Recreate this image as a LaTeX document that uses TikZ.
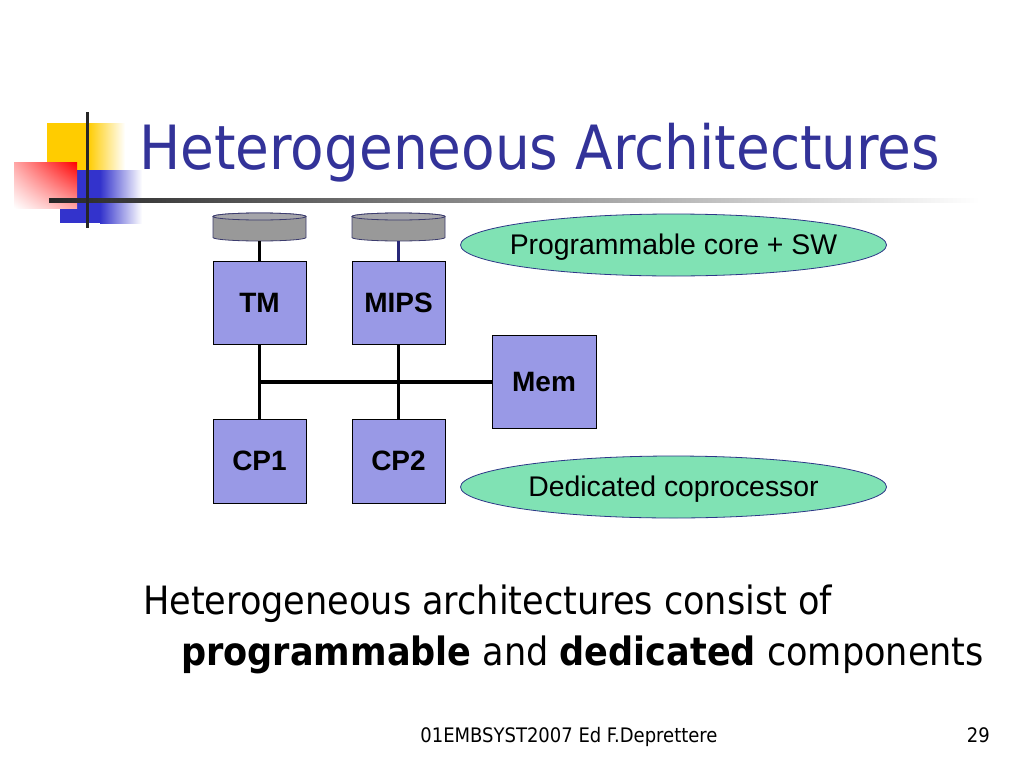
\documentclass[tikz,border=0pt]{standalone}
\usepackage{fontspec}
\setmainfont{DejaVu Sans Condensed}
\newfontfamily\arialf{Liberation Sans}
\usetikzlibrary{shapes.geometric,shadings}
\definecolor{titleblue}{RGB}{51,51,153}
\definecolor{boxfill}{RGB}{153,153,230}
\definecolor{mint}{RGB}{128,226,180}
\definecolor{ellline}{RGB}{45,55,135}
\definecolor{yel}{RGB}{255,204,0}
\definecolor{dblue}{RGB}{51,51,204}
\definecolor{drumgray}{RGB}{153,153,153}
\definecolor{drumtop}{RGB}{165,165,170}
\definecolor{drumline}{RGB}{60,60,110}
\definecolor{linknavy}{RGB}{40,40,120}
\newcommand{\drumshape}[3]{%
  \node[cylbox] (#1) at (#2,-#3) {};
  \filldraw[fill=drumgray, draw=drumline, line width=0.8pt]
    ({#2-46.5},{-#3+10.5}) -- ({#2-46.5},{-#3-10.5})
    arc[start angle=180,end angle=360,x radius=46.5,y radius=3.5]
    -- ({#2+46.5},{-#3+10.5})
    arc[start angle=0,end angle=180,x radius=46.5,y radius=3.5] -- cycle;
  \filldraw[fill=drumtop, draw=drumline, line width=0.8pt]
    (#2,{-#3+10.5}) ellipse[x radius=46.5, y radius=3.5];
}
\begin{document}
\begin{tikzpicture}[x=1pt,y=1pt,
  unit/.style={draw=black, line width=0.8pt, fill=boxfill, minimum width=93pt,
    minimum height=83pt, inner sep=0pt, font=\arialf\bfseries\fontsize{28}{32}\selectfont},
  note/.style={ellipse, draw=ellline, line width=0.8pt, fill=mint, minimum width=426pt,
    minimum height=62pt, inner sep=0pt},
  notetext/.style={inner sep=0pt, font=\arialf\fontsize{28.4}{32}\selectfont},
  link/.style={line width=3pt},
  bus/.style={line width=4pt},
  drumlink/.style={line width=2.5pt},
  cylbox/.style={minimum width=93pt, minimum height=28pt, inner sep=0pt},
  txt/.style={inner sep=0pt}]
\useasboundingbox (0,0) rectangle (1024,-768);
\fill[white] (0,0) rectangle (1024,-768);

% corner decoration
\fill[yel] (47,-123) rectangle (88,-172);
\shade[left color=yel, right color=white] (88,-123) rectangle (125,-172);
\fill[dblue] (60,-170) rectangle (100,-223);
\shade[left color=dblue, right color=white] (100,-170) rectangle (142,-223);
\shade[shading=bilinear interpolation, upper right=red, upper left=red!35, lower right=red!35, lower left=white] (14,-162) rectangle (77,-208);
\shade[left color=black!85, middle color=black!45, right color=white] (49,-198) rectangle (980,-202.5);
\draw[line width=3pt, black!85] (87,-112) -- (87,-228);

% title
\node[txt, anchor=base west, text=titleblue, font=\fontsize{61}{70}\selectfont] (title) at (139,-169) {Heterogeneous Architectures};

% drums
\drumshape{cTM}{259.5}{227}
\drumshape{cMIPS}{398.5}{227}

% units
\node[unit] (TM) at (259.5,-302.5) {TM};
\node[unit] (MIPS) at (398.5,-302.5) {MIPS};
\node[unit, minimum height=84pt] (CP1) at (259.5,-461) {CP1};
\node[unit, minimum height=84pt] (CP2) at (398.5,-461) {CP2};
\node[unit, minimum width=104pt, minimum height=93pt] (Mem) at (544,-381.5) {Mem};

\coordinate (j1) at (TM.south |- Mem.west);
\draw[drumlink] (cTM.south) -- (TM.north);
\draw[drumlink, linknavy] (cMIPS.south) -- (MIPS.north);
\draw[link] (TM.south) -- (CP1.north);
\draw[link] (MIPS.south) -- (CP2.north);
\draw[bus, shorten <=-1.5pt] (j1) -- (Mem.west);

% notes
\node[note] (e1) at (673.5,-245) {};
\node[notetext, yshift=-2pt] (t1) at (e1.center) {Programmable core + SW};
\node[note] (e2) at (673.5,-487) {};
\node[notetext, yshift=-2pt] (t2) at (e2.center) {Dedicated coprocessor};

% body text
\node[txt, anchor=base west, font=\fontsize{39}{46}\selectfont] (l1) at (143,-614) {Heterogeneous architectures consist of};
\node[txt, anchor=base west, font=\fontsize{39}{46}\selectfont] (l2) at (181,-665) {\textbf{programmable} and \textbf{dedicated} components};

% footer
\node[txt, anchor=base, font=\fontsize{20}{24}\selectfont] (foot) at (569,-742) {01EMBSYST2007 Ed F.Deprettere};
\node[txt, anchor=base east, font=\fontsize{20}{24}\selectfont] (page) at (990,-742) {29};
\end{tikzpicture}
\end{document}
